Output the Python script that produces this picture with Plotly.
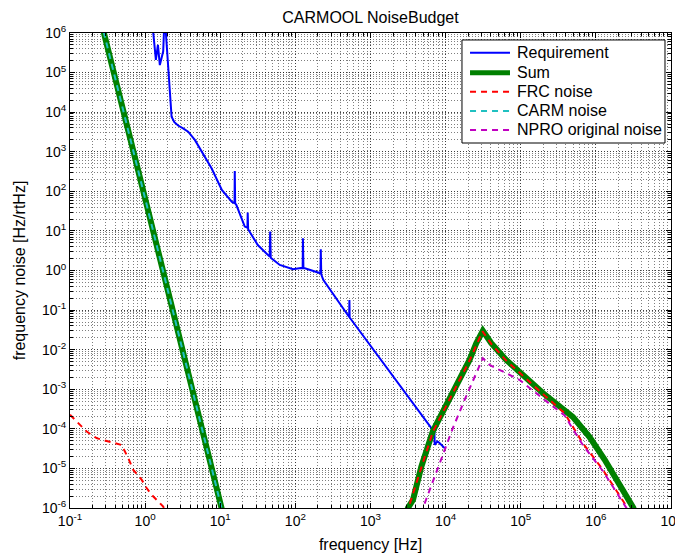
import plotly.graph_objects as go

# ---------------- data ----------------
req_f = [1.24, 1.39, 1.48, 1.57, 1.74, 1.82, 1.89, 2.09, 2.25, 2.45, 2.75, 3.2, 3.74, 4.59, 5.64, 7.66,
         10.5, 14.3, 15.5, 15.6, 15.8, 16.4, 21.2, 23.0, 23.2, 23.5, 31.6, 45.5, 46.2, 47.0,
         62, 93, 118, 125, 126, 128, 131, 200, 216, 218, 221, 235, 498, 520, 524, 528,
         6460, 7100, 7150, 7760, 8300, 9700]
req_v = [2e6, 2.08e5, 5e5, 1.55e5, 3.46e5, 3e6, 1e6, 4.5e4, 7.7e3, 5.6e3, 4.6e3, 3.9e3, 3.22e3, 1.99e3, 1.0e3, 383,
         108, 54, 50, 327, 50, 45, 12.9, 12, 29, 11, 4.4, 2.24, 9.6, 2.1,
         1.38, 1.08, 1.16, 1.15, 6.5, 1.15, 1.16, 0.87, 0.85, 3.45, 0.8, 0.58, 0.0757, 0.067, 0.18, 0.065,
         1.04e-4, 8.5e-5, 3.95e-5, 4.8e-5, 4.4e-5, 3.26e-5]

sum_f = [0.26, 0.283, 1.0, 3.0, 10.4, 11.0, None,
         3.0e3, 3.15e3, 3.68e3, 4.75e3, 6.78e3, 1.11e4, 1.25e4, 2.08e4, 2.56e4, 3.13e4, 4.05e4,
         6.4e4, 1.07e5, 1.97e5, 4.93e5, 8.2e5, 1.30e6, 2.06e6, 3.16e6, 3.4e6]
sum_v = [2e6, 1e6, 66, 0.0146, 1e-6, 6.5e-7, None,
         7e-7, 1e-6, 1.62e-6, 1.12e-5, 8.9e-5, 5.4e-4, 9.7e-4, 5.5e-3, 0.0146, 0.0299, 0.0146,
         5.5e-3, 2.3e-3, 8e-4, 2.0e-4, 6.3e-5, 1.7e-5, 4.1e-6, 1e-6, 6e-7]

frc_f = [0.1, 0.167, 0.226, 0.34, 0.487, 0.596, 0.695, 0.898, 1.047, 1.22, 1.42, 1.74, 1.85, None,
         3.0e3, 3.2e3, 4.75e3, 6.78e3, 1.11e4, 2.08e4, 3.1e4, 4.05e4, 6.4e4, 1.07e5, 2.07e5, 3.82e5,
         6.7e5, 1.24e6, 2.65e6, 2.8e6]
frc_v = [2.26e-4, 8.55e-5, 5.8e-5, 4.8e-5, 3.9e-5, 1.82e-5, 9.2e-6, 5.2e-6, 3.2e-6, 2.15e-6, 1.61e-6, 1.09e-6, 8.5e-7, None,
         7e-7, 1e-6, 1.05e-5, 8.5e-5, 5.2e-4, 5.3e-3, 0.029, 0.014, 5.3e-3, 2.15e-3, 7.0e-4, 2.5e-4,
         4.36e-5, 9.2e-6, 1e-6, 7e-7]

carm_f = [0.26, 0.283, 1.0, 3.0, 10.4, 11.0]
carm_v = [2e6, 1e6, 66, 0.0146, 1e-6, 6.5e-7]

npro_f = [4.8e3, 4.99e3, 1.25e4, 1.79e4, 3.13e4, 3.85e4, 6.4e4, 9.6e4, 2.07e5, 3.82e5, 6.7e5, 1.24e6, 2.55e6, 2.7e6]
npro_v = [7e-7, 1e-6, 1.05e-4, 5.4e-4, 6.1e-3, 4.1e-3, 2.55e-3, 1.73e-3, 5.4e-4, 2.2e-4, 3.9e-5, 8.6e-6, 1e-6, 7e-7]

series_names = ["Requirement", "Sum", "FRC noise", "CARM noise", "NPRO original noise"]

x_tick_vals = [1e-1, 1e0, 1e1, 1e2, 1e3, 1e4, 1e5, 1e6, 1e7]
x_tick_text = ["10<sup>-1</sup>", "10<sup>0</sup>", "10<sup>1</sup>", "10<sup>2</sup>", "10<sup>3</sup>",
               "10<sup>4</sup>", "10<sup>5</sup>", "10<sup>6</sup>", "10<sup>7</sup>"]
y_tick_vals = [1e-6, 1e-5, 1e-4, 1e-3, 1e-2, 1e-1, 1e0, 1e1, 1e2, 1e3, 1e4, 1e5, 1e6]
y_tick_text = ["10<sup>-6</sup>", "10<sup>-5</sup>", "10<sup>-4</sup>", "10<sup>-3</sup>", "10<sup>-2</sup>",
               "10<sup>-1</sup>", "10<sup>0</sup>", "10<sup>1</sup>", "10<sup>2</sup>", "10<sup>3</sup>",
               "10<sup>4</sup>", "10<sup>5</sup>", "10<sup>6</sup>"]

FONT = "Liberation Sans, Arial, Helvetica, sans-serif"
DASH = "6px,5px"
styles = [
    dict(color="#0000FF", width=2),
    dict(color="#008000", width=6),
    dict(color="#FF0000", width=2, dash=DASH),
    dict(color="#20C0C0", width=2, dash=DASH),
    dict(color="#C000C0", width=2, dash=DASH),
]

fig = go.Figure()
for xs, ys, nm, st in zip([req_f, sum_f, frc_f, carm_f, npro_f],
                          [req_v, sum_v, frc_v, carm_v, npro_v],
                          series_names, styles):
    fig.add_trace(go.Scatter(x=xs, y=ys, mode="lines", name=nm, line=st, showlegend=False))

grid_col = "rgba(0,0,0,0.5)"
grid_dash = "1px,2px"
axis_common = dict(
    type="log", showline=True, linecolor="black", linewidth=1, mirror="ticks",
    ticks="inside", ticklen=5, tickcolor="black", automargin=False,
    showgrid=True, gridcolor=grid_col, griddash=grid_dash, gridwidth=1,
    zeroline=False, tickfont=dict(family=FONT, size=14, color="black"),
    minor=dict(dtick="D1", ticks="inside", ticklen=3, tickcolor="black",
               showgrid=True, gridcolor=grid_col, griddash=grid_dash, gridwidth=1),
)

fig.update_xaxes(range=[-1, 7], tickvals=x_tick_vals, ticktext=x_tick_text,
                 title=dict(text="frequency [Hz]", font=dict(family=FONT, size=16, color="black"),
                            standoff=11),
                 **axis_common)
fig.update_yaxes(range=[-6, 6], tickvals=y_tick_vals, ticktext=y_tick_text,
                 title=dict(text="frequency noise [Hz/rtHz]", font=dict(family=FONT, size=16, color="black"),
                            standoff=12),
                 **axis_common)

# ---- legend box drawn in paper coordinates (MATLAB-style compact legend) ----
box_x0, box_x1, box_y0, box_y1 = 0.6522, 0.990, 0.7684, 0.9853
samp_x0, samp_x1, text_x = 0.6656, 0.7321, 0.7404
row_y = [0.9585, 0.9164, 0.8764, 0.8358, 0.7958]
shapes = [dict(type="rect", xref="paper", yref="paper", x0=box_x0, x1=box_x1, y0=box_y0, y1=box_y1,
               line=dict(color="black", width=1), fillcolor="white", layer="above")]
annotations = []
for nm, st, yy in zip(series_names, styles, row_y):
    lw = 5 if st["width"] > 3 else st["width"]
    shapes.append(dict(type="line", xref="paper", yref="paper", x0=samp_x0, x1=samp_x1, y0=yy, y1=yy,
                       line=dict(color=st["color"], width=lw, dash=st.get("dash", "solid")),
                       layer="above"))
    annotations.append(dict(text=nm, xref="paper", yref="paper", x=text_x, y=yy,
                            xanchor="left", yanchor="middle", showarrow=False,
                            font=dict(family=FONT, size=16, color="black")))

# page body has an 8px default margin, so the figure is 8px smaller
W, H = 675, 550
fig.update_layout(
    width=W, height=H,
    margin=dict(l=62, r=12, t=25, b=50),
    paper_bgcolor="white", plot_bgcolor="white",
    title=dict(text="CARMOOL NoiseBudget", x=0.5, xref="paper", xanchor="center",
               y=1 - 9.5 / H, yref="container", yanchor="middle",
               font=dict(family=FONT, size=16, color="black")),
    font=dict(family=FONT, size=15, color="black"),
    showlegend=False,
    shapes=shapes,
    annotations=annotations,
)

fig.write_html("out.html")
